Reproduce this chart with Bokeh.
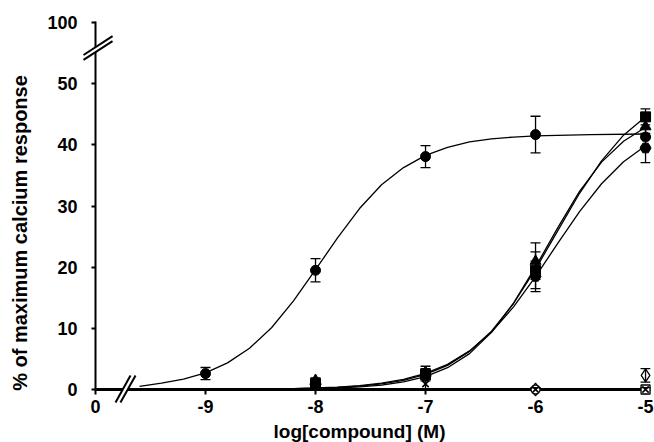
import math
from bokeh.plotting import figure
from bokeh.models import Range1d, FixedTicker, ColumnDataSource, Whisker, TeeHead
from bokeh.core.properties import value
from bokeh.embed import file_html
from bokeh.resources import INLINE

# ---------------- data ----------------
# log concentrations; "0" (vehicle) sits at position -10 on the broken axis
x_ticks = [-10, -9, -8, -7, -6, -5]
x_tick_labels = {-10: "0", -9: "-9", -8: "-8", -7: "-7", -6: "-6", -5: "-5"}
y_ticks = [0, 10, 20, 30, 40, 50, 60]
y_tick_labels = {60: "100"}
x_title = "log[compound] (M)"
y_title = "% of maximum calcium response"

a_x = [-9, -8, -7, -6, -5]
a_y = [2.6, 19.5, 38.1, 41.7, 41.3]
a_err = [1.0, 1.9, 1.8, 3.0, 1.5]

cl_x = [-8, -7, -6, -5]
b_y = [1.0, 2.5, 19.5, 44.6]
b_err = [0.4, 0.9, 3.0, 1.3]
c_y = [1.5, 2.8, 21.0, 43.0]
c_err = [0.4, 1.0, 3.0, 1.5]
d_y = [0.8, 2.2, 18.5, 39.5]
d_err = [0.4, 0.8, 2.5, 2.4]

e_x = [-6, -5]
e_y = [0.0, 2.3]
e_err = [0.3, 1.1]
f_x = [-7, -6, -5]
f_y = [0.9, 0.0, 0.0]
f_err = [0.8, 0.3, 0.3]
g_x = [-6]
g_y = [0.0]
h_x = [-5]
h_y = [0.0]

# fitted curves
curve_a_x = [-9.6, -9.4, -9.2, -9.0, -8.8, -8.6, -8.4, -8.2, -8.0, -7.8, -7.6,
             -7.4, -7.2, -7.0, -6.8, -6.6, -6.4, -6.2, -6.0, -5.5, -5.0]
curve_a_y = [0.5, 1.03, 1.69, 2.73, 4.35, 6.75, 10.1, 14.5, 19.6, 24.8, 29.6,
             33.5, 36.3, 38.3, 39.6, 40.5, 41.0, 41.3, 41.5, 41.7, 41.8]
curve_cl_x = [-9.6, -9.0, -8.6, -8.2, -8.0, -7.8, -7.6, -7.4, -7.2, -7.0, -6.8,
              -6.6, -6.4, -6.2, -6.0, -5.8, -5.6, -5.4, -5.2, -5.0]
curve_b_y = [0.004, 0.016, 0.045, 0.123, 0.204, 0.338, 0.559, 0.921, 1.51, 2.46, 3.95,
             6.23, 9.54, 14.07, 19.7, 25.9, 32.1, 37.4, 41.6, 44.6]
curve_c_y = [0.002, 0.009, 0.027, 0.081, 0.140, 0.243, 0.420, 0.725, 1.25, 2.12, 3.57,
             5.87, 9.34, 14.13, 20.06, 26.4, 32.4, 37.2, 40.6, 42.9]
curve_d_y = [0.005, 0.022, 0.058, 0.153, 0.247, 0.400, 0.645, 1.04, 1.66, 2.63, 4.11,
             6.31, 9.41, 13.51, 18.47, 23.86, 29.1, 33.66, 37.26, 39.89]

FONT = "Liberation Sans"

p = figure(frame_width=555, frame_height=368,
           x_range=Range1d(-10, -4.955), y_range=Range1d(0, 60.2),
           output_backend="svg", toolbar_location=None,
           min_border_left=95, min_border_top=21, min_border_right=4,
           min_border_bottom=53)
p.grid.visible = False
p.outline_line_color = None
p.background_fill_color = "white"
p.border_fill_color = "white"

for ax in (p.xaxis, p.yaxis):
    ax.minor_tick_line_color = None
    ax.major_tick_in = 0
    ax.major_tick_line_width = 2
    ax.major_tick_line_color = "black"
    ax.axis_line_color = "black"
    ax.major_label_text_font = FONT
    ax.major_label_text_font_style = "bold"
    ax.major_label_text_font_size = "18px"
    ax.major_label_text_color = "black"

p.xaxis.ticker = FixedTicker(ticks=x_ticks)
p.xaxis.major_label_overrides = x_tick_labels
p.xaxis.axis_line_width = 3
p.xaxis.major_tick_out = 5
p.xaxis.major_label_standoff = 5

p.yaxis.ticker = FixedTicker(ticks=y_ticks)
p.yaxis.major_label_overrides = y_tick_labels
p.yaxis.axis_line_width = 2
p.yaxis.major_tick_out = 4
p.yaxis.major_label_standoff = 14

title_kw = dict(text_font=value(FONT), text_font_style="bold",
                text_color="black", text_align="center", text_baseline="middle",
                level="overlay")
p.text(x=[-7.6], y=[-6.9], text=[x_title], text_font_size=value("19px"), **title_kw)
p.text(x=[-10.69], y=[25.6], text=[y_title], angle=math.pi / 2,
       text_font_size=value("20px"), **title_kw)

# curves
for cx, cy in ((curve_a_x, curve_a_y), (curve_cl_x, curve_b_y),
               (curve_cl_x, curve_c_y), (curve_cl_x, curve_d_y)):
    p.line(cx, cy, line_color="black", line_width=1.3)

# error bars
def errbars(xs, ys, errs):
    src = ColumnDataSource(dict(x=xs, lo=[y - e for y, e in zip(ys, errs)],
                                hi=[y + e for y, e in zip(ys, errs)]))
    w = Whisker(source=src, base="x", lower="lo", upper="hi",
                line_color="black", line_width=1.3, level="overlay",
                upper_head=TeeHead(size=10, line_width=1.3, line_color="black"),
                lower_head=TeeHead(size=10, line_width=1.3, line_color="black"))
    p.add_layout(w)

errbars(a_x, a_y, a_err)
errbars(cl_x, b_y, b_err)
errbars(cl_x, c_y, c_err)
errbars(cl_x, d_y, d_err)
errbars(e_x, e_y, e_err)
errbars(f_x, f_y, f_err)

# markers
kw = dict(level="overlay")
p.scatter(a_x, a_y, marker="circle", size=10, color="black", **kw)
p.scatter(cl_x, b_y, marker="square", size=10, color="black", **kw)
p.scatter(cl_x, c_y, marker="triangle", size=11, color="black", **kw)
p.scatter(cl_x, d_y, marker="hex", size=11, color="black", **kw)
p.scatter(e_x, e_y, marker="diamond", size=13, fill_color="white",
          line_color="black", line_width=1.3, **kw)
p.scatter(g_x, g_y, marker="circle", size=9, fill_color="white",
          line_color="black", line_width=1.3, **kw)
p.scatter(h_x, h_y, marker="square", size=9, fill_color="white",
          line_color="black", line_width=1.3, **kw)
p.scatter(f_x, f_y, marker="x", size=9, line_color="black", line_width=1.6, **kw)

# axis break marks
p.line([-10.109, -9.845], [54.32, 57.41], line_color="white", line_width=4, level="overlay")
p.line([-10.109, -9.845], [53.91, 57.0], line_color="black", line_width=2, level="overlay")
p.line([-10.109, -9.845], [54.72, 57.82], line_color="black", line_width=2, level="overlay")

p.line([-9.795, -9.659], [-2.12, 2.29], line_color="white", line_width=4, level="overlay")
p.line([-9.818, -9.682], [-2.12, 2.29], line_color="black", line_width=2, level="overlay")
p.line([-9.773, -9.636], [-2.12, 2.29], line_color="black", line_width=2, level="overlay")

open("out.html", "w").write(file_html(p, INLINE))
